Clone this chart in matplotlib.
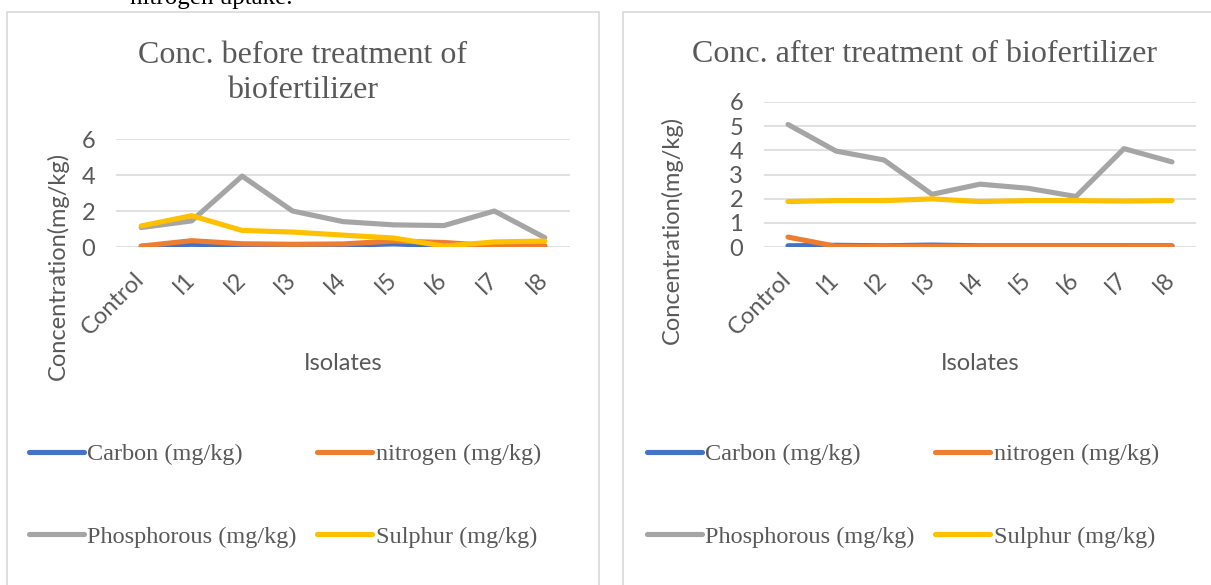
import matplotlib
matplotlib.use("Agg")
import matplotlib.pyplot as plt
from matplotlib.patches import Rectangle

isolates = ['Control', 'I1', 'I2', 'I3', 'I4', 'I5', 'I6', 'I7', 'I8']
series_names = ['Carbon (mg/kg)', 'nitrogen (mg/kg)', 'Phosphorous (mg/kg)', 'Sulphur (mg/kg)']
colors = ['#4472C4', '#ED7D31', '#A5A5A5', '#FFC000']

# before treatment
carbon_before = [0.04, 0.15, 0.1, 0.08, 0.08, 0.18, 0.05, 0.05, 0.05]
nitrogen_before = [0.05, 0.35, 0.18, 0.15, 0.17, 0.33, 0.25, 0.07, 0.06]
phosphorous_before = [1.08, 1.45, 3.94, 2.0, 1.41, 1.23, 1.19, 2.0, 0.52]
sulphur_before = [1.17, 1.74, 0.92, 0.83, 0.66, 0.5, 0.05, 0.28, 0.33]

# after treatment
carbon_after = [0.05, 0.07, 0.05, 0.08, 0.05, 0.05, 0.05, 0.05, 0.05]
nitrogen_after = [0.41, 0.03, 0.03, 0.03, 0.03, 0.03, 0.03, 0.02, 0.03]
phosphorous_after = [5.07, 3.97, 3.6, 2.18, 2.6, 2.43, 2.09, 4.07, 3.52]
sulphur_after = [1.88, 1.92, 1.92, 1.99, 1.88, 1.92, 1.92, 1.9, 1.92]

W, H = 1211, 585
fig = plt.figure(figsize=(W / 100, H / 100), dpi=100)

SANS = 'Lato'
SERIF = 'Liberation Serif'
GREY = '#595959'
FS = 17


def px(x0, y0, x1, y1):
    # pixel box (top-left origin) -> figure fraction rect
    return [x0 / W, 1 - y1 / H, (x1 - x0) / W, (y1 - y0) / H]


def draw(box, data, yticks, title, title_x, title_y, ylab_x, ylab_y, leg_x):
    ax = fig.add_axes(px(*box))
    x = range(len(isolates))
    lines = []
    for vals, c, name in zip(data, colors, series_names):
        ln, = ax.plot(x, vals, color=c, lw=3.7, solid_capstyle='round',
                      solid_joinstyle='round', label=name)
        lines.append(ln)
    ax.set_xlim(-0.5, len(isolates) - 0.5)
    ax.set_ylim(0, yticks[-1])
    ax.set_yticks(yticks)
    ax.grid(axis='y', color='#D9D9D9', lw=1.1)
    ax.set_axisbelow(True)
    for s in ax.spines.values():
        s.set_visible(False)
    ax.set_xticks(list(x))
    ax.set_xticklabels(isolates, rotation=45, ha='right', va='center',
                       rotation_mode='anchor', family=SANS, fontsize=FS, color=GREY)
    ax.tick_params(axis='x', length=0, pad=21)
    ax.tick_params(axis='y', length=0, pad=15, labelsize=FS, labelcolor=GREY)
    for t in ax.get_yticklabels():
        t.set_family(SANS)
    fig.text(title_x / W, 1 - title_y / H, title, family=SERIF, fontsize=23,
             color=GREY, ha='center', va='baseline', linespacing=1.28)
    fig.text(ylab_x / W, 1 - ylab_y / H, 'Concentration(mg/kg)', family=SANS,
             fontsize=FS, color=GREY, rotation=90, ha='center', va='center')
    fig.text((box[0] + box[2]) / 2 / W, 1 - 363 / H, 'Isolates', family=SANS,
             fontsize=FS, color=GREY, ha='center', va='center')
    # row-wise legend order: Carbon, nitrogen / Phosphorous, Sulphur
    order = [0, 2, 1, 3]
    leg = fig.legend(handles=[lines[i] for i in order], ncol=2, loc='upper left',
                     bbox_to_anchor=(leg_x / W, 1 - 443 / H), frameon=False,
                     prop={'family': SERIF, 'size': 17.5}, handlelength=2.25,
                     handletextpad=0.15, columnspacing=0.85, labelspacing=2.5,
                     borderaxespad=0, borderpad=0)
    for t in leg.get_texts():
        t.set_color(GREY)
    return ax


# chart frames
fig.add_artist(Rectangle((7 / W, -0.1), 592 / W, 1.1 - 12 / H, transform=fig.transFigure,
                         fill=False, edgecolor='#D9D9D9', lw=1.2))
fig.add_artist(Rectangle((623 / W, -0.1), 604 / W, 1.1 - 12 / H, transform=fig.transFigure,
                         fill=False, edgecolor='#D9D9D9', lw=1.2))

# document text cut off at the top
fig.text(292 / W, 1 - 4 / H, 'nitrogen uptake.', family=SERIF, fontsize=18,
         color='black', ha='right', va='baseline')

draw((116, 139, 570, 247),
     [carbon_before, nitrogen_before, phosphorous_before, sulphur_before],
     [0, 2, 4, 6], 'Conc. before treatment of\nbiofertilizer', 303, 98, 58, 266, 29)
draw((764, 102, 1196, 247),
     [carbon_after, nitrogen_after, phosphorous_after, sulphur_after],
     [0, 1, 2, 3, 4, 5, 6], 'Conc. after treatment of biofertilizer', 925, 62, 672, 230, 647)

fig.savefig('out.png', dpi=100)
